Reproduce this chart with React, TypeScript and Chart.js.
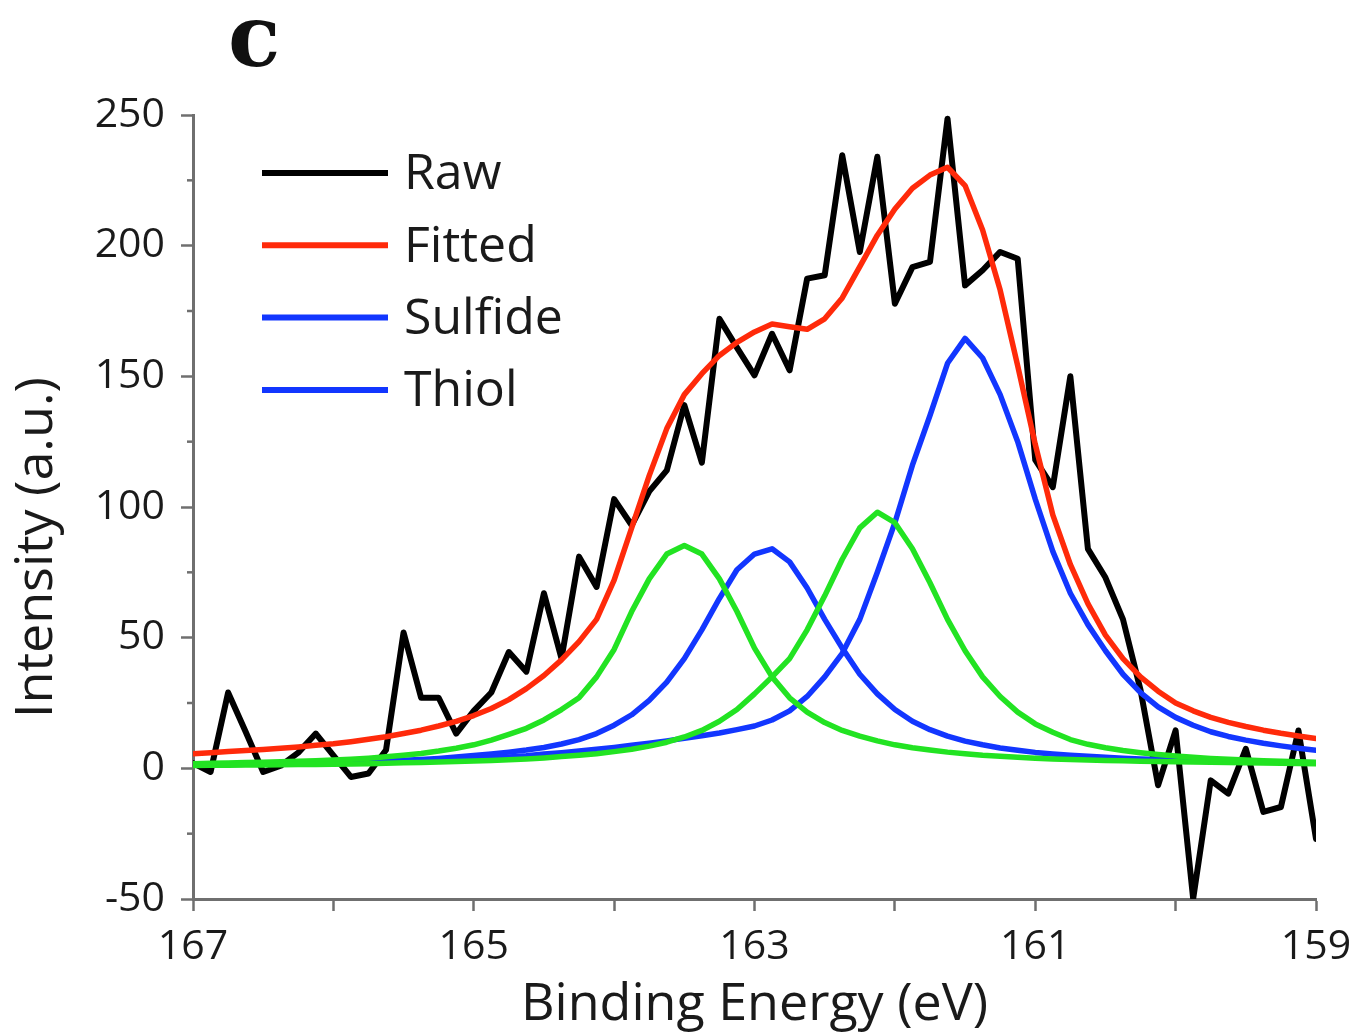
import { useEffect, useRef } from 'react';
import { Chart, registerables } from 'chart.js';

Chart.register(...registerables);

// Binding energy grid (eV)
const energies = [
  167, 166.875, 166.75, 166.625, 166.5, 166.375, 166.25, 166.125, 166, 165.875,
  165.75, 165.625, 165.5, 165.375, 165.25, 165.125, 165, 164.875, 164.75, 164.625,
  164.5, 164.375, 164.25, 164.125, 164, 163.875, 163.75, 163.625, 163.5, 163.375,
  163.25, 163.125, 163, 162.875, 162.75, 162.625, 162.5, 162.375, 162.25, 162.125,
  162, 161.875, 161.75, 161.625, 161.5, 161.375, 161.25, 161.125, 161, 160.875,
  160.75, 160.625, 160.5, 160.375, 160.25, 160.125, 160, 159.875, 159.75, 159.625,
  159.5, 159.375, 159.25, 159.125, 159,
];

const raw = [
  2, -1.4, 29, 14, -1.4, 1, 6, 13.3, 5, -3.3,
  -2, 7, 52, 27, 27, 13.3, 22, 29, 44.5, 37,
  67, 42, 81, 69.4, 103, 93, 106, 114, 139, 117,
  172, 161, 150.4, 166.3, 152.3, 187.4, 188.7, 234.6, 197.6, 234,
  177.8, 191.8, 193.8, 248.6, 184.8, 190.6, 197.6, 195, 118, 107.6,
  150, 84, 73, 57, 30, -6.5, 14.5, -49.9, -4.6, -9.7,
  7.5, -16.7, -14.8, 14.5, -27,
];

const fitted = [
  5.6, 6.0, 6.4, 6.8, 7.2, 7.7, 8.2, 8.8, 9.4, 10.2,
  11.1, 12.1, 13.3, 14.6, 16.2, 18.0, 20.2, 22.9, 26.3, 30.5,
  35.5, 41.5, 48.5, 57, 72, 92, 112, 130, 143, 151,
  158, 163, 167, 170, 169, 168, 172, 180, 192, 204,
  214, 222, 227, 230, 223, 206, 183, 154, 124, 97,
  78, 63, 51, 42, 35, 29.5, 25, 22, 19.5, 17.6,
  16, 14.6, 13.4, 12.4, 11.4,
];

const sulfideA = [
  1.3, 1.4, 1.5, 1.6, 1.7, 1.8, 1.9, 2.0, 2.2, 2.4,
  2.6, 2.8, 3.1, 3.4, 3.8, 4.3, 4.9, 5.5, 6.2, 7.0,
  8.0, 9.3, 11, 13.3, 16.5, 20.5, 26, 33, 42, 53,
  65, 76, 82, 84, 79, 69, 57, 46, 36, 28.5,
  22.5, 18, 14.8, 12.3, 10.4, 9.0, 7.8, 6.9, 6.1, 5.5,
  5.0, 4.6, 4.2, 3.9, 3.6, 3.4, 3.2, 3.0, 2.8, 2.7,
  2.5, 2.4, 2.3, 2.2, 2.1,
];

const sulfideB = [
  1.4, 1.5, 1.55, 1.6, 1.7, 1.8, 1.9, 2.0, 2.1, 2.25,
  2.4, 2.55, 2.7, 2.9, 3.1, 3.35, 3.6, 3.9, 4.3, 4.8,
  5.5, 6.0, 6.6, 7.3, 8.0, 8.8, 9.6, 10.5, 11.5, 12.5,
  13.5, 14.8, 16.2, 18.5, 22, 27.5, 35, 44, 57, 75,
  94, 116, 135, 155, 164.5, 157, 143, 125, 103, 83,
  67, 55, 45, 36, 29, 23.5, 19.5, 16.5, 14, 12.2,
  10.8, 9.6, 8.6, 7.7, 6.9,
];

const thiolA = [
  1.8, 1.9, 2.0, 2.2, 2.3, 2.5, 2.7, 2.9, 3.2, 3.5,
  3.9, 4.4, 5.0, 5.7, 6.6, 7.7, 9.0, 10.8, 13.0, 15.3,
  18.5, 22.5, 27, 35, 45.5, 60, 72.5, 82, 85.3, 82,
  72.5, 60, 46, 35, 27, 21.5, 17.5, 14.5, 12.3, 10.5,
  9.0, 7.9, 7.0, 6.2, 5.6, 5.0, 4.6, 4.2, 3.9, 3.6,
  3.4, 3.2, 3.0, 2.9, 2.7, 2.6, 2.5, 2.4, 2.3, 2.2,
  2.1, 2.0, 1.9, 1.85, 1.8,
];

const thiolB = [
  1.1, 1.15, 1.2, 1.25, 1.3, 1.4, 1.45, 1.5, 1.6, 1.7,
  1.8, 1.95, 2.1, 2.25, 2.4, 2.6, 2.8, 3.0, 3.3, 3.6,
  4.0, 4.5, 5.0, 5.6, 6.4, 7.3, 8.5, 10, 12, 14.5,
  18, 22.5, 28.5, 35, 42, 53, 66, 80, 92, 98,
  94, 84, 71, 57, 45, 35, 27.5, 21.5, 17, 13.8,
  11, 9.2, 7.9, 6.8, 6.0, 5.3, 4.7, 4.2, 3.8, 3.5,
  3.2, 2.9, 2.7, 2.5, 2.3,
];

const xTickLabels = [167, 165, 163, 161, 159];
const yMinorTicks = [-25, 25, 75, 125, 175, 225];
const legendLabels = ['Raw', 'Fitted', 'Sulfide', 'Thiol'];

const BLACK = '#000000';
const RED = '#ff2a0a';
const BLUE = '#1236ff';
const GREEN = '#22e322';
const AXIS = '#6f6f6f';
const TEXT = '#1a1a1a';
const legendColors = [BLACK, RED, BLUE, BLUE];

const toPoints = (ys: number[]) => energies.map((x, i) => ({ x, y: ys[i] }));

const decorPlugin = {
  id: 'decor',
  afterDraw(chart: any) {
    const { ctx, chartArea } = chart;
    const yScale = chart.scales.y;
    ctx.save();
    // minor y ticks
    ctx.strokeStyle = AXIS;
    ctx.lineWidth = 2.5;
    yMinorTicks.forEach((v) => {
      const py = yScale.getPixelForValue(v);
      ctx.beginPath();
      ctx.moveTo(chartArea.left - 6, py);
      ctx.lineTo(chartArea.left, py);
      ctx.stroke();
    });
    // panel letter
    ctx.fillStyle = '#111';
    ctx.font = 'bold 86px "DejaVu Serif"';
    ctx.textAlign = 'left';
    ctx.textBaseline = 'alphabetic';
    ctx.fillText('c', 228, 66);
    // legend
    ctx.font = '50px "Open Sans"';
    ctx.textBaseline = 'middle';
    legendLabels.forEach((label, i) => {
      const ly = chartArea.top + 58 + i * 72.3;
      ctx.strokeStyle = legendColors[i];
      ctx.lineWidth = 6;
      ctx.lineCap = 'butt';
      ctx.beginPath();
      ctx.moveTo(chartArea.left + 69, ly);
      ctx.lineTo(chartArea.left + 195, ly);
      ctx.stroke();
      ctx.fillStyle = TEXT;
      ctx.fillText(label, chartArea.left + 211, ly + 2);
    });
    ctx.restore();
  },
};

export default function App() {
  const canvasRef = useRef<HTMLCanvasElement | null>(null);

  useEffect(() => {
    if (!canvasRef.current) return;
    const chart = new Chart(canvasRef.current, {
      type: 'line',
      data: {
        datasets: [
          { label: 'Raw', data: toPoints(raw), borderColor: BLACK, borderWidth: 6, order: 6 },
          { label: 'Fitted', data: toPoints(fitted), borderColor: RED, borderWidth: 5.5, order: 5 },
          { label: 'Sulfide', data: toPoints(sulfideA), borderColor: BLUE, borderWidth: 5.5, order: 4 },
          { label: 'Sulfide', data: toPoints(sulfideB), borderColor: BLUE, borderWidth: 5.5, order: 3 },
          { label: 'Thiol', data: toPoints(thiolA), borderColor: GREEN, borderWidth: 5.5, order: 2 },
          { label: 'Thiol', data: toPoints(thiolB), borderColor: GREEN, borderWidth: 5.5, order: 1 },
        ],
      },
      options: {
        responsive: false,
        animation: false,
        layout: { padding: { left: 0, top: 115, right: 39, bottom: 0 } },
        elements: {
          point: { radius: 0 },
          line: { tension: 0, borderJoinStyle: 'round', borderCapStyle: 'round', fill: false },
        },
        plugins: { legend: { display: false }, tooltip: { enabled: false } },
        scales: {
          x: {
            type: 'linear',
            reverse: true,
            min: 159,
            max: 167,
            ticks: {
              stepSize: 1,
              autoSkip: false,
              maxRotation: 0,
              padding: 12,
              color: TEXT,
              font: { family: '"Open Sans"', size: 41 },
              callback: (v: any) => (xTickLabels.includes(Number(v)) ? String(v) : ''),
            },
            grid: {
              display: true,
              drawOnChartArea: false,
              drawTicks: true,
              tickLength: 12,
              tickColor: AXIS,
              tickWidth: 2.5,
            },
            border: { display: true, color: AXIS, width: 3 },
            title: {
              display: true,
              text: 'Binding Energy (eV)',
              color: TEXT,
              font: { family: '"Open Sans"', size: 52 },
              padding: { top: 0, bottom: 0 },
            },
            afterFit: (s: any) => {
              s.height = 137;
              s.paddingLeft = 0;
              s.paddingRight = 0;
            },
          },
          y: {
            min: -50,
            max: 250,
            ticks: {
              stepSize: 50,
              padding: 16,
              color: TEXT,
              font: { family: '"Open Sans"', size: 41 },
            },
            grid: {
              display: true,
              drawOnChartArea: false,
              drawTicks: true,
              tickLength: 12,
              tickColor: AXIS,
              tickWidth: 2.5,
            },
            border: { display: true, color: AXIS, width: 3 },
            title: {
              display: true,
              text: 'Intensity (a.u.)\u00a0\u00a0\u00a0\u00a0\u00a0\u00a0',
              color: TEXT,
              font: { family: '"Open Sans"', size: 52 },
              padding: { top: 6, bottom: 0 },
            },
            afterFit: (s: any) => {
              s.width = 193;
              s.paddingTop = 0;
              s.paddingBottom = 0;
            },
          },
        },
      },
      plugins: [decorPlugin],
    } as any);
    return () => chart.destroy();
  }, []);

  return (
    <div style={{ position: 'absolute', left: 0, top: 0, width: 1355, height: 1036, background: '#fff' }}>
      <canvas ref={canvasRef} width={1355} height={1036} style={{ display: 'block' }} />
    </div>
  );
}
